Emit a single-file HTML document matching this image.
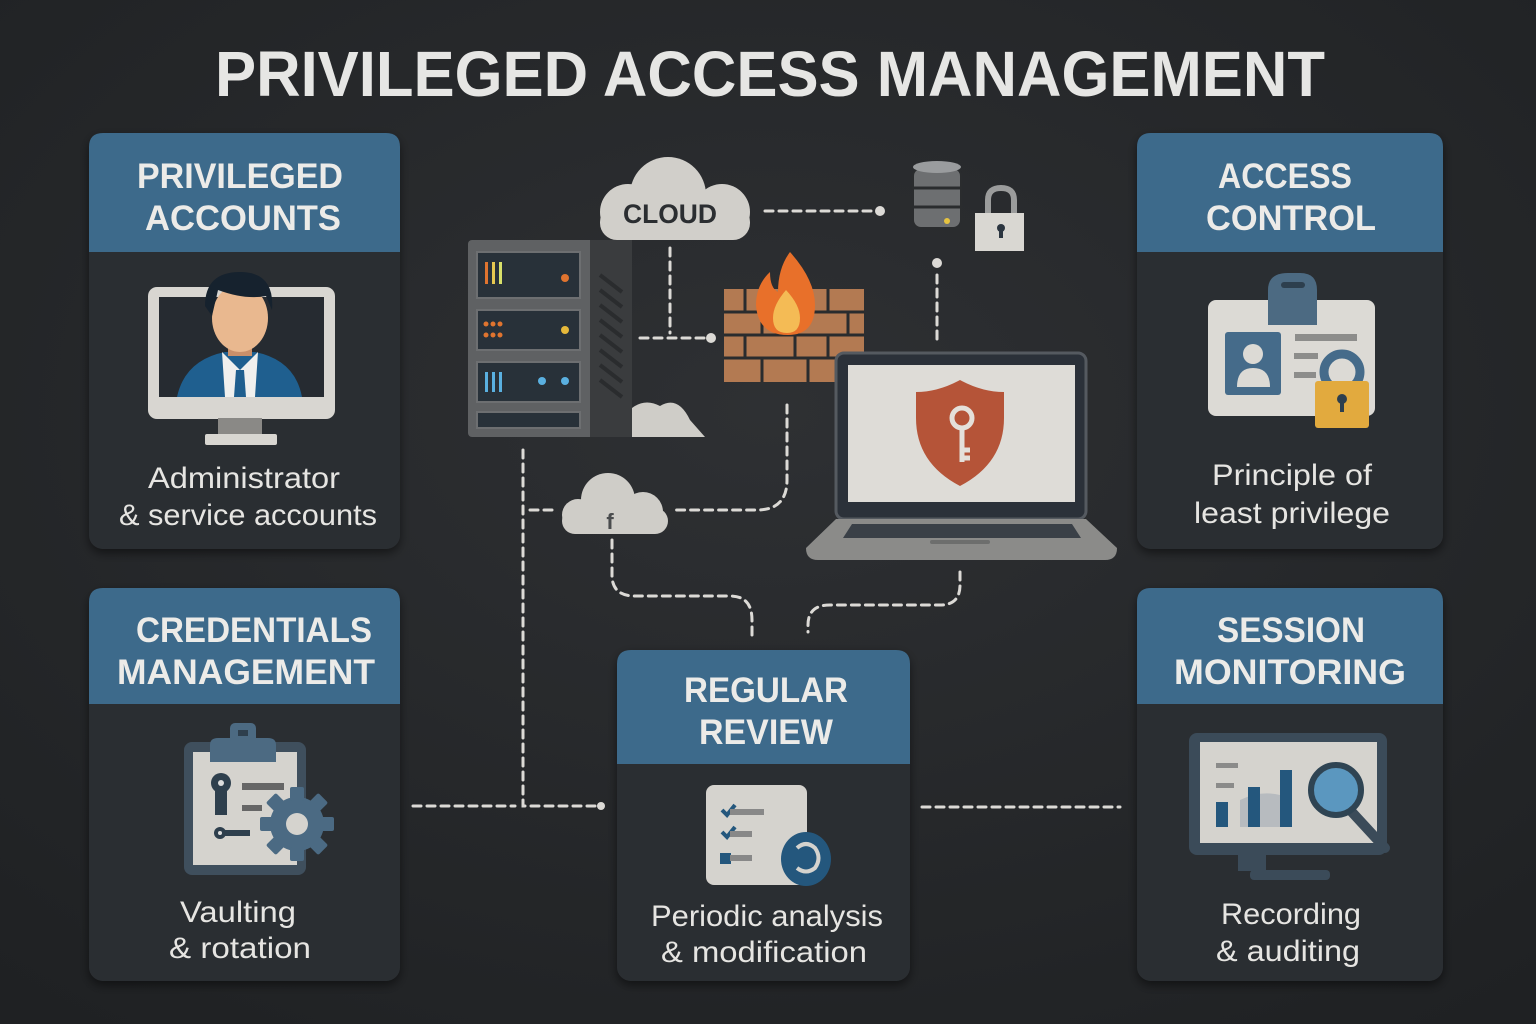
<!DOCTYPE html>
<html><head><meta charset="utf-8"><style>
html,body{margin:0;padding:0;background:#25272a;}
svg{display:block}
text{font-family:"Liberation Sans",sans-serif;}
</style></head><body>
<svg width="1536" height="1024" viewBox="0 0 1536 1024" xmlns="http://www.w3.org/2000/svg">
<defs>
<radialGradient id="bg" cx="50%" cy="40%" r="75%">
<stop offset="0" stop-color="#2e3033"/><stop offset="1" stop-color="#1f2123"/>
</radialGradient>
<filter id="sh" x="-10%" y="-10%" width="120%" height="120%"><feDropShadow dx="0" dy="4" stdDeviation="5" flood-color="#000" flood-opacity="0.5"/></filter>
</defs>
<rect width="1536" height="1024" fill="url(#bg)"/>
<text x="770" y="96" text-anchor="middle" font-size="64" font-weight="bold" fill="#e6e6e4" textLength="1110" lengthAdjust="spacingAndGlyphs">PRIVILEGED ACCESS MANAGEMENT</text>

<!-- connectors -->
<g fill="none" stroke="#dcdad6" stroke-width="3" stroke-dasharray="8 6" stroke-linecap="round">
<path d="M670 248 V333"/>
<path d="M640 338 H705"/>
<path d="M765 211 H872"/>
<path d="M937 275 V345"/>
<path d="M787 405 V480 Q787 510 757 510 H672"/>
<path d="M530 510 H556"/>
<path d="M523 450 V806 H598"/>
<path d="M413 806 H515"/>
<path d="M612 540 V575 Q612 596 635 596 H730 Q752 596 752 620 V640"/>
<path d="M960 572 V585 Q960 605 940 605 H830 Q808 605 808 625 V632"/>
<path d="M922 807 H1120"/>
</g>
<g fill="#dcdad6"><circle cx="711" cy="338" r="5"/><circle cx="880" cy="211" r="5"/><circle cx="937" cy="263" r="5"/><circle cx="601" cy="806" r="4"/></g>

<!-- cards -->
<g filter="url(#sh)">
<rect x="89" y="133" width="311" height="416" rx="14" fill="#2c2f33"/>
<rect x="1137" y="133" width="306" height="416" rx="14" fill="#2c2f33"/>
<rect x="89" y="588" width="311" height="393" rx="14" fill="#2c2f33"/>
<rect x="1137" y="588" width="306" height="393" rx="14" fill="#2c2f33"/>
<rect x="617" y="650" width="293" height="331" rx="14" fill="#2c2f33"/>
</g>
<g fill="#3d6a8b">
<path d="M89 252 V147 Q89 133 103 133 H386 Q400 133 400 147 V252Z"/>
<path d="M1137 252 V147 Q1137 133 1151 133 H1429 Q1443 133 1443 147 V252Z"/>
<path d="M89 704 V602 Q89 588 103 588 H386 Q400 588 400 602 V704Z"/>
<path d="M1137 704 V602 Q1137 588 1151 588 H1429 Q1443 588 1443 602 V704Z"/>
<path d="M617 764 V664 Q617 650 631 650 H896 Q910 650 910 664 V764Z"/>
</g>
<g font-size="35" font-weight="bold" fill="#ecebe8" text-anchor="middle">
<text x="240" y="188" textLength="206" lengthAdjust="spacingAndGlyphs">PRIVILEGED</text>
<text x="243" y="230" textLength="196" lengthAdjust="spacingAndGlyphs">ACCOUNTS</text>
<text x="1285" y="188" textLength="134" lengthAdjust="spacingAndGlyphs">ACCESS</text>
<text x="1291" y="230" textLength="170" lengthAdjust="spacingAndGlyphs">CONTROL</text>
<text x="254" y="642" textLength="236" lengthAdjust="spacingAndGlyphs">CREDENTIALS</text>
<text x="246" y="684" textLength="258" lengthAdjust="spacingAndGlyphs">MANAGEMENT</text>
<text x="1291" y="642" textLength="148" lengthAdjust="spacingAndGlyphs">SESSION</text>
<text x="1290" y="684" textLength="232" lengthAdjust="spacingAndGlyphs">MONITORING</text>
<text x="766" y="702" textLength="164" lengthAdjust="spacingAndGlyphs">REGULAR</text>
<text x="766" y="744" textLength="134" lengthAdjust="spacingAndGlyphs">REVIEW</text>
</g>
<g font-size="30" fill="#e6e5e2" text-anchor="middle">
<text x="244" y="488" textLength="192" lengthAdjust="spacingAndGlyphs">Administrator</text>
<text x="248" y="525" textLength="258" lengthAdjust="spacingAndGlyphs">&amp; service accounts</text>
<text x="1292" y="485" textLength="160" lengthAdjust="spacingAndGlyphs">Principle of</text>
<text x="1292" y="523" textLength="196" lengthAdjust="spacingAndGlyphs">least privilege</text>
<text x="238" y="922" textLength="116" lengthAdjust="spacingAndGlyphs">Vaulting</text>
<text x="240" y="958" textLength="142" lengthAdjust="spacingAndGlyphs">&amp; rotation</text>
<text x="1291" y="924" textLength="140" lengthAdjust="spacingAndGlyphs">Recording</text>
<text x="1288" y="961" textLength="144" lengthAdjust="spacingAndGlyphs">&amp; auditing</text>
<text x="767" y="926" textLength="232" lengthAdjust="spacingAndGlyphs">Periodic analysis</text>
<text x="764" y="962" textLength="206" lengthAdjust="spacingAndGlyphs">&amp; modification</text>
</g>

<!-- monitor + person -->
<rect x="148" y="287" width="187" height="132" rx="9" fill="#d8d6d1"/>
<rect x="159" y="297" width="165" height="100" fill="#262b31"/>
<rect x="218" y="418" width="44" height="16" fill="#8a8986"/>
<rect x="205" y="434" width="72" height="11" rx="2" fill="#d8d6d1"/>
<path d="M177 397 Q185 360 225 352 H255 Q295 360 302 397Z" fill="#1f5f8f"/>
<path d="M222 352 L240 370 L258 352 L255 397 H225Z" fill="#f0f0ee"/>
<path d="M236 370 H244 L246 397 H234Z" fill="#1f5f8f"/>
<rect x="228" y="336" width="24" height="20" fill="#c98f6a"/>
<ellipse cx="240" cy="318" rx="28" ry="34" fill="#e9b88f"/>
<path d="M205 306 Q205 272 240 272 Q275 272 272 310 L266 296 Q245 300 218 290 L212 316Z" fill="#16222e"/>

<!-- access control badge -->
<rect x="1208" y="300" width="167" height="116" rx="8" fill="#dcdad5"/>
<path d="M1268 325 V290 Q1268 273 1288 273 H1300 Q1317 273 1317 290 V325Z" fill="#4c6a82"/>
<rect x="1281" y="282" width="24" height="6" rx="3" fill="#2d3f4e"/>
<rect x="1225" y="332" width="56" height="63" rx="3" fill="#456b8a"/>
<circle cx="1253" cy="354" r="10" fill="#dcdad5"/>
<path d="M1237 387 Q1237 368 1253 368 Q1270 368 1270 387Z" fill="#dcdad5"/>
<rect x="1295" y="334" width="62" height="7" fill="#8d8d8b"/><rect x="1294" y="353" width="24" height="6" fill="#8d8d8b"/><rect x="1294" y="372" width="22" height="6" fill="#8d8d8b"/>
<circle cx="1342" cy="372" r="18" fill="none" stroke="#456b8a" stroke-width="9"/>
<rect x="1315" y="381" width="54" height="47" rx="3" fill="#e2aa3e"/>
<circle cx="1342" cy="399" r="5" fill="#2d3f4e"/><rect x="1340" y="400" width="4" height="12" fill="#2d3f4e"/>

<!-- credentials clipboard -->
<rect x="184" y="742" width="122" height="133" rx="8" fill="#3f4f5d"/>
<rect x="193" y="752" width="104" height="113" fill="#d5d3ce"/>
<path d="M210 762 V745 Q210 738 218 738 H268 Q276 738 276 745 V762Z" fill="#4c6a82"/>
<rect x="230" y="723" width="26" height="20" rx="5" fill="#4c6a82"/><rect x="238" y="730" width="10" height="6" fill="#2e3f4d"/>
<circle cx="221" cy="783" r="10" fill="#2e3f4d"/><rect x="215" y="783" width="12" height="32" fill="#2e3f4d"/><circle cx="221" cy="783" r="3" fill="#ddd"/>
<rect x="242" y="783" width="42" height="7" fill="#666"/><rect x="242" y="805" width="20" height="6" fill="#666"/>
<circle cx="220" cy="833" r="6" fill="#2e3f4d"/><rect x="220" y="830" width="30" height="6" fill="#2e3f4d"/><circle cx="220" cy="833" r="2" fill="#ddd"/>
<g transform="translate(297 824)" fill="#4b6a83">
<circle r="27"/>
<g><rect x="-7" y="-37" width="14" height="14" rx="2"/><rect x="-7" y="23" width="14" height="14" rx="2"/><rect x="-37" y="-7" width="14" height="14" rx="2"/><rect x="23" y="-7" width="14" height="14" rx="2"/></g>
<g transform="rotate(45)"><rect x="-7" y="-37" width="14" height="14" rx="2"/><rect x="-7" y="23" width="14" height="14" rx="2"/><rect x="-37" y="-7" width="14" height="14" rx="2"/><rect x="23" y="-7" width="14" height="14" rx="2"/></g>
<circle r="11" fill="#d5d3ce"/>
</g>

<!-- review checklist -->
<rect x="706" y="785" width="101" height="100" rx="8" fill="#d5d3ce"/>
<path d="M722 810 l5 5 l8 -10 M722 832 l5 5 l8 -10" stroke="#24577d" stroke-width="4" fill="none"/>
<rect x="720" y="853" width="11" height="11" fill="#24577d"/>
<rect x="730" y="809" width="34" height="6" fill="#888"/><rect x="730" y="831" width="22" height="6" fill="#888"/><rect x="730" y="855" width="22" height="6" fill="#888"/>
<ellipse cx="806" cy="859" rx="25" ry="27" fill="#24577d"/>
<path d="M797 848 Q806 840 815 848 Q822 858 815 868 Q806 875 797 868" fill="none" stroke="#d5d3ce" stroke-width="4"/>

<!-- session monitor -->
<rect x="1189" y="733" width="198" height="122" rx="8" fill="#3b4b59"/>
<rect x="1200" y="742" width="177" height="101" fill="#d5d3ce"/>
<rect x="1238" y="855" width="28" height="16" fill="#3b4b59"/><rect x="1250" y="870" width="80" height="10" rx="4" fill="#3b4b59"/>
<rect x="1216" y="763" width="22" height="5" fill="#8b8b8a"/><rect x="1216" y="783" width="18" height="5" fill="#8b8b8a"/>
<path d="M1240 800 Q1260 790 1280 795 V827 H1240Z" fill="#b7bbbf"/>
<rect x="1216" y="802" width="12" height="25" fill="#24577d"/><rect x="1248" y="787" width="12" height="40" fill="#24577d"/><rect x="1280" y="770" width="12" height="57" fill="#24577d"/>
<line x1="1350" y1="810" x2="1385" y2="848" stroke="#3b4b59" stroke-width="10" stroke-linecap="round"/>
<circle cx="1336" cy="790" r="25" fill="#5b97bf" stroke="#2f4453" stroke-width="6"/>

<!-- cloud top -->
<g fill="#d1cfca">
<circle cx="668" cy="195" r="38"/><circle cx="628" cy="212" r="28"/><circle cx="722" cy="212" r="28"/>
<rect x="600" y="205" width="150" height="35" rx="17"/>
</g>
<text x="670" y="223" text-anchor="middle" font-size="27" font-weight="bold" fill="#2b2e31" textLength="94" lengthAdjust="spacingAndGlyphs">CLOUD</text>

<!-- server -->
<rect x="468" y="240" width="164" height="197" rx="4" fill="#5f6163"/>
<rect x="590" y="240" width="42" height="197" fill="#3a3c3e"/>
<g stroke="#2a2c2e" stroke-width="4">
<line x1="600" y1="275" x2="622" y2="292"/><line x1="600" y1="290" x2="622" y2="307"/><line x1="600" y1="305" x2="622" y2="322"/><line x1="600" y1="320" x2="622" y2="337"/><line x1="600" y1="335" x2="622" y2="352"/><line x1="600" y1="350" x2="622" y2="367"/><line x1="600" y1="365" x2="622" y2="382"/><line x1="600" y1="380" x2="622" y2="397"/>
</g>
<g fill="#283139" stroke="#6d6f71" stroke-width="2">
<rect x="477" y="252" width="103" height="46"/><rect x="477" y="310" width="103" height="40"/><rect x="477" y="362" width="103" height="40"/><rect x="477" y="412" width="103" height="16"/>
</g>
<rect x="485" y="262" width="3" height="22" fill="#e0742f"/><rect x="492" y="262" width="3" height="22" fill="#e6c850"/><rect x="499" y="262" width="3" height="22" fill="#d8e06a"/>
<circle cx="565" cy="278" r="4" fill="#e0742f"/><circle cx="565" cy="330" r="4" fill="#e6b93a"/><circle cx="542" cy="381" r="4" fill="#5ab0e0"/><circle cx="565" cy="381" r="4" fill="#5ab0e0"/>
<g fill="#e0742f"><circle cx="486" cy="324" r="2.5"/><circle cx="493" cy="324" r="2.5"/><circle cx="500" cy="324" r="2.5"/><circle cx="486" cy="335" r="2.5"/><circle cx="493" cy="335" r="2.5"/><circle cx="500" cy="335" r="2.5"/></g>
<rect x="485" y="372" width="3" height="20" fill="#5ab0e0"/><rect x="492" y="372" width="3" height="20" fill="#5ab0e0"/><rect x="499" y="372" width="3" height="20" fill="#5ab0e0"/>
<path d="M632 437 V408 Q645 398 660 406 Q678 395 690 420 L705 437Z" fill="#cfcdc8"/>

<!-- firewall -->
<rect x="724" y="289" width="140" height="93" fill="#b37a52"/>
<g stroke="#2a2c2e" stroke-width="3">
<line x1="724" y1="312" x2="864" y2="312"/><line x1="724" y1="335" x2="864" y2="335"/><line x1="724" y1="358" x2="864" y2="358"/>
<line x1="745" y1="289" x2="745" y2="312"/><line x1="780" y1="289" x2="780" y2="312"/><line x1="828" y1="289" x2="828" y2="312"/>
<line x1="762" y1="312" x2="762" y2="335"/><line x1="848" y1="312" x2="848" y2="335"/>
<line x1="745" y1="335" x2="745" y2="358"/><line x1="795" y1="335" x2="795" y2="358"/><line x1="828" y1="335" x2="828" y2="358"/>
<line x1="762" y1="358" x2="762" y2="382"/><line x1="808" y1="358" x2="808" y2="382"/>
</g>
<path d="M790 252 Q815 280 815 305 Q815 335 788 335 Q758 335 756 305 Q756 285 770 272 Q770 288 778 292 Q778 268 790 252Z" fill="#e8702a"/>
<path d="M786 290 Q800 305 800 318 Q800 333 787 333 Q773 333 773 318 Q773 305 786 290Z" fill="#f4bb55"/>

<!-- db + lock -->
<g fill="#6d6f71" stroke="#2a2c2e" stroke-width="2">
<rect x="913" y="168" width="48" height="60" rx="8"/>
</g>
<ellipse cx="937" cy="167" rx="24" ry="6" fill="#9a9c9e"/>
<line x1="913" y1="188" x2="961" y2="188" stroke="#2a2c2e" stroke-width="3"/><line x1="913" y1="207" x2="961" y2="207" stroke="#2a2c2e" stroke-width="3"/>
<circle cx="947" cy="221" r="3" fill="#e6c340"/>
<path d="M988 216 V200 Q988 188 1001 188 Q1014 188 1014 200 V216" fill="none" stroke="#9b9c9c" stroke-width="6"/>
<rect x="975" y="213" width="49" height="38" fill="#d9d7d2"/>
<circle cx="1001" cy="228" r="4" fill="#2b3540"/><rect x="999" y="229" width="4" height="9" fill="#2b3540"/>

<!-- laptop -->
<rect x="836" y="353" width="250" height="166" rx="8" fill="#2b3139" stroke="#555a60" stroke-width="3"/>
<rect x="848" y="365" width="227" height="137" fill="#dedcd7"/>
<path d="M806 548 L836 519 H1086 L1117 548 Q1117 560 1105 560 H818 Q806 560 806 548Z" fill="#8b8b89"/>
<path d="M843 538 L852 524 H1072 L1081 538Z" fill="#3a4047"/>
<rect x="930" y="540" width="60" height="4" rx="2" fill="#6d6e6d"/>
<path d="M960 380 Q982 392 1004 392 V418 Q1004 463 960 486 Q916 463 916 418 V392 Q938 392 960 380Z" fill="#b55438"/>
<circle cx="962" cy="418" r="10" fill="none" stroke="#e4e0da" stroke-width="5"/>
<path d="M962 428 V462 M962 450 H970 M962 458 H970" stroke="#e4e0da" stroke-width="5" fill="none"/>

<!-- small cloud -->
<g fill="#cfcdc8">
<circle cx="608" cy="500" r="27"/><circle cx="578" cy="515" r="16"/><circle cx="643" cy="512" r="20"/>
<rect x="562" y="508" width="106" height="26" rx="13"/>
</g>
<text x="610" y="529" text-anchor="middle" font-size="22" font-weight="bold" fill="#4a4c4e">f</text>
</svg>
</body></html>
